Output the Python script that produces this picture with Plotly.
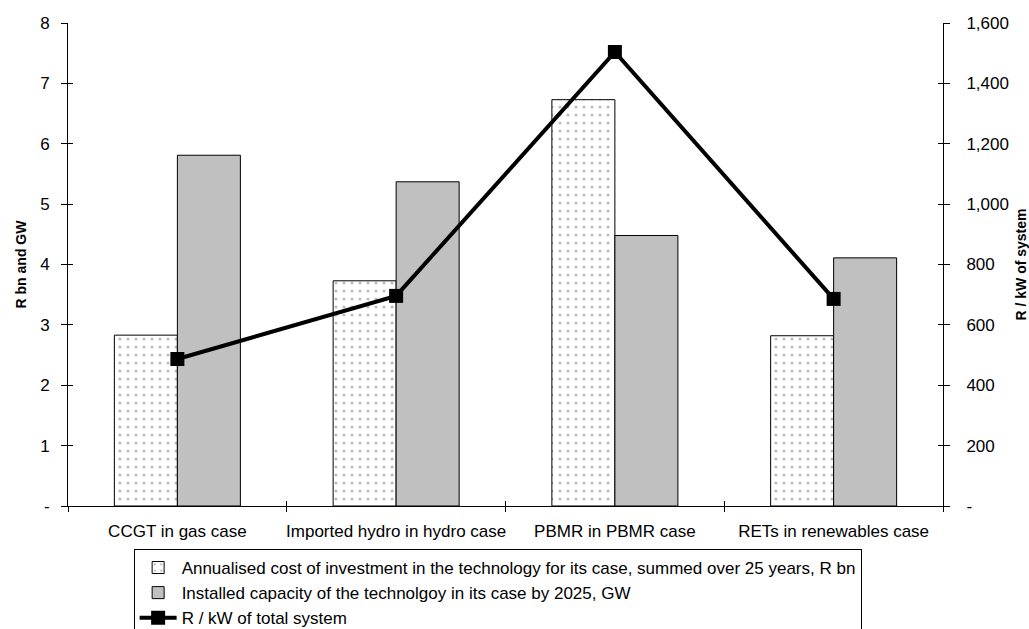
import plotly.graph_objects as go

categories = ["CCGT in gas case", "Imported hydro in hydro case", "PBMR in PBMR case", "RETs in renewables case"]
cost_rbn = [2.83, 3.73, 6.73, 2.82]
capacity_gw = [5.81, 5.37, 4.48, 4.11]
r_per_kw = [487, 696, 1504, 686]

left_tickvals = [0, 1, 2, 3, 4, 5, 6, 7, 8]
left_ticktext = ["-", "1", "2", "3", "4", "5", "6", "7", "8"]
right_tickvals = [0, 200, 400, 600, 800, 1000, 1200, 1400, 1600]
right_ticktext = ["-", "200", "400", "600", "800", "1,000", "1,200", "1,400", "1,600"]

name_cost = "Annualised cost of investment in the technology for its case, summed over 25 years, R bn"
name_cap = "Installed capacity of the technolgoy in its case by 2025, GW"
name_line = "R / kW of total system"

FONT = "Liberation Sans, Arial, sans-serif"
FS = 17

fig = go.Figure()
fig.add_trace(go.Bar(
    x=categories, y=cost_rbn, name=name_cost,
    marker=dict(color="white", line=dict(color="black", width=1),
                pattern=dict(shape=".", fgcolor="#7a7a7a", bgcolor="white",
                             size=8, solidity=0.12)),
))
fig.add_trace(go.Bar(
    x=categories, y=capacity_gw, name=name_cap,
    marker=dict(color="#c0c0c0", line=dict(color="black", width=1)),
))
fig.add_trace(go.Scatter(
    x=categories, y=r_per_kw, name=name_line, yaxis="y2",
    mode="lines+markers", line=dict(color="black", width=4),
    marker=dict(symbol="square", size=14, color="black"),
))
# invisible helper traces for the inside halves of the crossing tick marks
fig.add_trace(go.Scatter(x=categories, y=cost_rbn, xaxis="x2", yaxis="y3",
                         mode="markers", marker=dict(opacity=0), showlegend=False))
fig.add_trace(go.Scatter(x=categories, y=r_per_kw, yaxis="y4",
                         mode="markers", marker=dict(opacity=0), showlegend=False))

axis_common = dict(showgrid=False, zeroline=False, linecolor="black", linewidth=1,
                   tickcolor="black", tickwidth=1,
                   tickfont=dict(family=FONT, size=FS, color="black"))

fig.update_layout(
    width=1029, height=629,
    margin=dict(l=68, r=86, t=23, b=123, autoexpand=False),
    paper_bgcolor="white", plot_bgcolor="white",
    font=dict(family=FONT, size=FS, color="black"),
    barmode="group", bargap=0.424, bargroupgap=0,
    hovermode=False,
    showlegend=True,
    legend=dict(x=0.075, y=-0.089, xanchor="left", yanchor="top",
                bgcolor="white", bordercolor="black", borderwidth=1,
                font=dict(family=FONT, size=FS, color="black"),
                itemwidth=37,
                traceorder="normal", tracegroupgap=0),
    xaxis=dict(type="category", categoryarray=categories, range=[-0.5, 3.5],
               showline=True, ticks="outside", ticklen=5, tickson="boundaries",
               tickangle=0, ticklabelstandoff=10, **axis_common),
    xaxis2=dict(type="category", categoryarray=categories, range=[-0.5, 3.5],
                overlaying="x", anchor="y", showline=False, ticks="inside", ticklen=5,
                tickson="boundaries", showticklabels=False, showgrid=False, zeroline=False,
                tickcolor="black", tickwidth=1),
    yaxis=dict(range=[0, 8], tickvals=left_tickvals, ticktext=left_ticktext,
               showline=True, ticks="outside", ticklen=6, ticklabelstandoff=8,
               title=dict(text="<b>R bn and GW</b>", font=dict(family=FONT, size=14, color="black"),
                          standoff=10),
               **axis_common),
    yaxis2=dict(range=[0, 1600], tickvals=right_tickvals, ticktext=right_ticktext,
                overlaying="y", side="right", anchor="x",
                showline=True, ticks="outside", ticklen=6, ticklabelstandoff=13,
                title=dict(text="<b>R / kW of system</b>", font=dict(family=FONT, size=14, color="black"),
                           standoff=14),
                **axis_common),
    yaxis3=dict(range=[0, 8], tickvals=left_tickvals, overlaying="y", side="left", anchor="x",
                ticks="inside", ticklen=5, showticklabels=False, showline=False,
                showgrid=False, zeroline=False, tickcolor="black", tickwidth=1),
    yaxis4=dict(range=[0, 1600], tickvals=right_tickvals, overlaying="y", side="right", anchor="x",
                ticks="inside", ticklen=5, showticklabels=False, showline=False,
                showgrid=False, zeroline=False, tickcolor="black", tickwidth=1),
)

fig.write_html("out.html", config={"displayModeBar": False},
               post_script="document.body.style.margin='0';document.body.style.overflow='hidden';")
